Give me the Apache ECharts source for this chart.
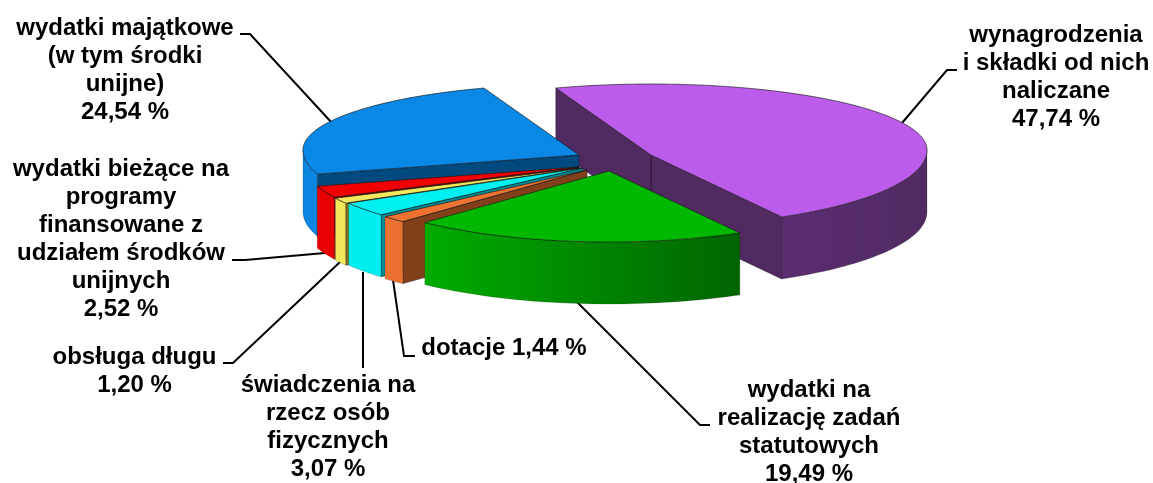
<!DOCTYPE html>
<html>
<head>
<meta charset="utf-8">
<script src="https://cdn.jsdelivr.net/npm/echarts@6/dist/echarts.min.js"></script>
<style>html,body{margin:0;padding:0;background:#fff}#c{width:1153px;height:483px}</style>
</head>
<body>
<div id="c"></div>
<script>
// --- data ---
const shares = [47.74, 24.54, 2.52, 1.20, 3.07, 1.44, 19.49];
const labelTexts = [
  'wynagrodzenia\ni składki od nich\nnaliczane',
  'wydatki majątkowe\n(w tym środki\nunijne)',
  'wydatki bieżące na\nprogramy\nfinansowane z\nudziałem środków\nunijnych',
  'obsługa długu',
  'świadczenia na\nrzecz osób\nfizycznych',
  'dotacje',
  'wydatki na\nrealizację zadań\nstatutowych'
];
const sameLineValue = [false, false, false, false, false, true, false];

// --- styling ---
const topColors = ['#bb5dea', '#0a88e6', '#f00000', '#f2ea5c', '#00f0f2', '#ee7230', '#00b800'];
const rimColors = [
  ['#5a2d72', '#502a62'], ['#0a86e0', '#0a86e0'], ['#e80000', '#e80000'], ['#f0e85a', '#f0e85a'],
  ['#00eef0', '#00eef0'], ['#ec7030', '#ec7030'], ['#00ac00', '#006400']
];
const cutColors = ['#522a62', '#004a80', '#8a0000', '#7a7020', '#008a92', '#82401a', '#006400'];

// --- 3D pie layout ---
const base = [579, 150];
const explode = [[72, 0], [0, 0], [0, 12], [1, 13], [4, 13], [8, 15], [30, 16]];
const RX = 276, RY_BACK = 66, RY_FRONT = 76, DEPTH = 62, APEX_DROP = 5;
const START_ANGLE = 298.3;

const total = shares.reduce((a, b) => a + b, 0);
const spans = [];
shares.reduce((acc, s) => { const e = acc + s / total * 360; spans.push([acc, e]); return e; }, START_ANGLE);

function rim(c, deg, drop) {
  const t = deg * Math.PI / 180, v = Math.sin(t);
  return [c[0] + RX * Math.cos(t), c[1] - (v >= 0 ? RY_BACK : RY_FRONT) * v + (drop || 0)];
}
function arc(c, a, b, drop) {
  const n = Math.max(2, Math.ceil(Math.abs(b - a) / 1.5)), pts = [];
  for (let i = 0; i <= n; i++) pts.push(rim(c, a + (b - a) * i / n, drop));
  return pts;
}
function renderItem(params) {
  const i = params.dataIndex;
  const c = [base[0] + explode[i][0], base[1] + explode[i][1]];
  const apex = [c[0], c[1] + APEX_DROP];
  const [a, b] = spans[i];
  const kids = [];
  const wall = (p, q, fill) => kids.push({
    type: 'polygon',
    shape: { points: [p, q, [q[0], q[1] + DEPTH], [p[0], p[1] + DEPTH]] },
    style: { fill, stroke: 'rgba(20,10,30,0.6)', lineWidth: 0.8 }
  });
  if (Math.cos(a * Math.PI / 180) > 0) wall(apex, rim(c, a), cutColors[i]);
  if (Math.cos(b * Math.PI / 180) < 0) wall(apex, rim(c, b), cutColors[i]);
  [[180, 360], [540, 720]].forEach(([lo, hi]) => {
    const s = Math.max(a, lo), e = Math.min(b, hi);
    if (e <= s) return;
    const top = arc(c, s, e), bot = arc(c, e, s, DEPTH);
    kids.push({
      type: 'polygon',
      shape: { points: top.concat(bot) },
      style: {
        fill: { type: 'linear', x: 0, y: 0, x2: 1, y2: 0, colorStops: [
          { offset: 0, color: rimColors[i][0] }, { offset: 1, color: rimColors[i][1] }] },
        stroke: 'rgba(20,20,20,0.35)', lineWidth: 0.5
      }
    });
  });
  kids.push({
    type: 'polygon',
    shape: { points: [apex].concat(arc(c, a, b)) },
    style: { fill: topColors[i], stroke: 'rgba(20,20,20,0.7)', lineWidth: 0.9 }
  });
  return { type: 'group', children: kids };
}

// --- labels ---
const FONT = 'bold 24px "Liberation Sans", Arial, sans-serif';
const LINE = 28;
const labelAnchors = [[1056, 21], [125, 14], [121, 155], [134.5, 343], [328, 371], [504, 334], [809, 376]];
const leaders = [
  [[902, 123], [947, 70], [957, 70]],
  [[240, 34], [250, 34], [332, 123]],
  [[232, 260], [245, 260], [325, 253]],
  [[223, 363], [233, 363], [340, 262]],
  [[363, 272], [363, 368]],
  [[393, 280], [404, 356], [415, 356]],
  [[577, 302], [700, 425], [710, 425]]
];
const fmt = v => v.toFixed(2).replace('.', ',') + ' %';
const graphics = [];
labelTexts.forEach((t, i) => {
  graphics.push({
    type: 'polyline', shape: { points: leaders[i] },
    style: { stroke: '#000', lineWidth: 2, fill: null }, silent: true
  });
  graphics.push({
    type: 'text', x: labelAnchors[i][0], y: labelAnchors[i][1], silent: true,
    style: {
      text: t + (sameLineValue[i] ? ' ' : '\n') + fmt(shares[i]),
      font: FONT, fill: '#000', align: 'center', verticalAlign: 'top', lineHeight: LINE
    }
  });
});

const chart = echarts.init(document.getElementById('c'), null, { renderer: 'canvas' });
chart.setOption({
  animation: false,
  backgroundColor: '#fff',
  series: [{ type: 'custom', coordinateSystem: 'none', silent: true, renderItem, data: shares }],
  graphic: graphics
});
</script>
</body>
</html>
